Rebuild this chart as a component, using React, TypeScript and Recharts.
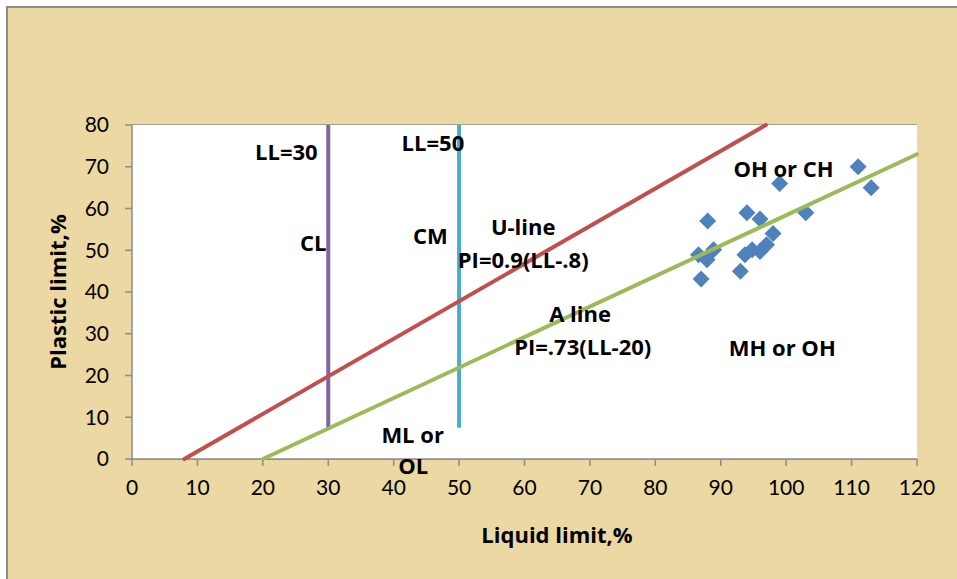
import React from "react";
import {
  ScatterChart,
  Scatter,
  XAxis,
  YAxis,
  CartesianGrid,
  ReferenceDot,
} from "recharts";

// soil samples (liquid limit, plastic limit)
const samples = [
  { ll: 111, pi: 70 },
  { ll: 113, pi: 65 },
  { ll: 99, pi: 66 },
  { ll: 88, pi: 57 },
  { ll: 94, pi: 59 },
  { ll: 96, pi: 57.5 },
  { ll: 103, pi: 59 },
  { ll: 98, pi: 54 },
  { ll: 97, pi: 51.3 },
  { ll: 96, pi: 49.7 },
  { ll: 94.8, pi: 50.1 },
  { ll: 93.7, pi: 48.9 },
  { ll: 93, pi: 45 },
  { ll: 87, pi: 43.1 },
  { ll: 86.6, pi: 48.9 },
  { ll: 87.9, pi: 47.7 },
  { ll: 88.9, pi: 50.1 },
];

const uLine = [
  { ll: 8, pi: 0 },
  { ll: 96.9, pi: 80 },
];
const aLine = [
  { ll: 20, pi: 0 },
  { ll: 120, pi: 73 },
];
const ll30 = [
  { ll: 30, pi: 7.5 },
  { ll: 30, pi: 80 },
];
const ll50 = [
  { ll: 50, pi: 7.5 },
  { ll: 50, pi: 80 },
];

const xTicks = [0, 10, 20, 30, 40, 50, 60, 70, 80, 90, 100, 110, 120];
const yTicks = [0, 10, 20, 30, 40, 50, 60, 70, 80];

const notes = [
  { text: "LL=30", ll: 23.6, pi: 73.6 },
  { text: "LL=50", ll: 46.0, pi: 75.6 },
  { text: "CL", ll: 27.7, pi: 51.7 },
  { text: "CM", ll: 45.6, pi: 53.3 },
  { text: "U-line", ll: 59.8, pi: 55.5 },
  { text: "PI=0.9(LL-.8)", ll: 59.8, pi: 47.7 },
  { text: "A line", ll: 68.5, pi: 34.8 },
  { text: "PI=.73(LL-20)", ll: 68.9, pi: 26.9 },
  { text: "MH or OH", ll: 99.4, pi: 26.6 },
  { text: "OH or CH", ll: 99.6, pi: 69.4 },
  { text: "ML or", ll: 42.9, pi: 5.8 },
  { text: "OL", ll: 43.0, pi: -1.8 },
];

const FONT = "Lato, 'Noto Sans', sans-serif";
const BOLD_FONT = "'Open Sans', Lato, sans-serif";

const Diamond = (props: any) => {
  const { cx, cy } = props;
  const r = 8.5;
  return (
    <polygon
      points={`${cx},${cy - r} ${cx + r},${cy} ${cx},${cy + r} ${cx - r},${cy}`}
      fill="#4F81BD"
    />
  );
};

const NoDot = () => <g />;

export default function App() {
  return (
    <div
      style={{
        position: "fixed",
        left: 0,
        top: 0,
        width: 957,
        height: 579,
        background: "#ffffff",
        overflow: "hidden",
        fontFamily: FONT,
      }}
    >
      <div
        style={{
          position: "absolute",
          left: 6,
          top: 6,
          width: 1000,
          height: 700,
          background: "#ECD8A2",
          borderLeft: "2px solid #8C8C8C",
          borderTop: "2px solid #8C8C8C",
        }}
      />
      <div style={{ position: "absolute", left: 0, top: 0 }}>
        <ScatterChart
          width={957}
          height={579}
          margin={{ top: 125, right: 40, bottom: 0, left: 0 }}
        >
          <rect x={132} y={125} width={785} height={334} fill="#ffffff" />
          <CartesianGrid
            vertical={false}
            stroke="#8C8C8C"
            strokeWidth={1.5}
            fill="#ffffff"
          />
          <XAxis
            type="number"
            dataKey="ll"
            domain={[0, 120]}
            ticks={xTicks}
            interval={0}
            height={120}
            axisLine={{ stroke: "#8C8C8C", strokeWidth: 1.5 }}
            tickLine={{ stroke: "#8C8C8C", strokeWidth: 1.5 }}
            tickSize={7}
            tick={{ fill: "#000", fontSize: 21, fontFamily: FONT, dy: 12 }}
          />
          <YAxis
            type="number"
            dataKey="pi"
            domain={[0, 80]}
            ticks={yTicks}
            interval={0}
            width={132}
            axisLine={{ stroke: "#8C8C8C", strokeWidth: 1.5 }}
            tickLine={{ stroke: "#8C8C8C", strokeWidth: 1.5 }}
            tickSize={7}
            tickMargin={16}
            tick={{ fill: "#000", fontSize: 21, fontFamily: FONT }}
          />
          <Scatter
            data={samples}
            shape={<Diamond />}
            isAnimationActive={false}
          />
          <Scatter
            data={ll30}
            line={{ stroke: "#8064A2", strokeWidth: 4 }}
            shape={<NoDot />}
            isAnimationActive={false}
          />
          <Scatter
            data={ll50}
            line={{ stroke: "#4BACC6", strokeWidth: 4 }}
            shape={<NoDot />}
            isAnimationActive={false}
          />
          <Scatter
            data={uLine}
            line={{ stroke: "#C0504D", strokeWidth: 4, strokeLinecap: "round" }}
            shape={<NoDot />}
            isAnimationActive={false}
          />
          <Scatter
            data={aLine}
            line={{ stroke: "#9BBB59", strokeWidth: 4, strokeLinecap: "round" }}
            shape={<NoDot />}
            isAnimationActive={false}
          />
          {notes.map((n) => (
            <ReferenceDot
              key={n.text}
              x={n.ll}
              y={n.pi}
              r={0}
              fill="none"
              stroke="none"
              ifOverflow="visible"
              label={{
                value: n.text,
                position: "center",
                fill: "#000",
                fontSize: 22,
                fontWeight: 700,
                fontFamily: BOLD_FONT,
              }}
            />
          ))}
        </ScatterChart>
      </div>
      <div
        style={{
          position: "absolute",
          left: 557,
          top: 534,
          transform: "translate(-50%, -50%)",
          fontSize: 22,
          fontWeight: 700,
          fontFamily: BOLD_FONT,
          whiteSpace: "nowrap",
        }}
      >
        Liquid limit,%
      </div>
      <div
        style={{
          position: "absolute",
          left: 57,
          top: 292,
          transform: "translate(-50%, -50%) rotate(-90deg)",
          fontSize: 22,
          fontWeight: 700,
          fontFamily: BOLD_FONT,
          whiteSpace: "nowrap",
        }}
      >
        Plastic limit,%
      </div>
    </div>
  );
}
